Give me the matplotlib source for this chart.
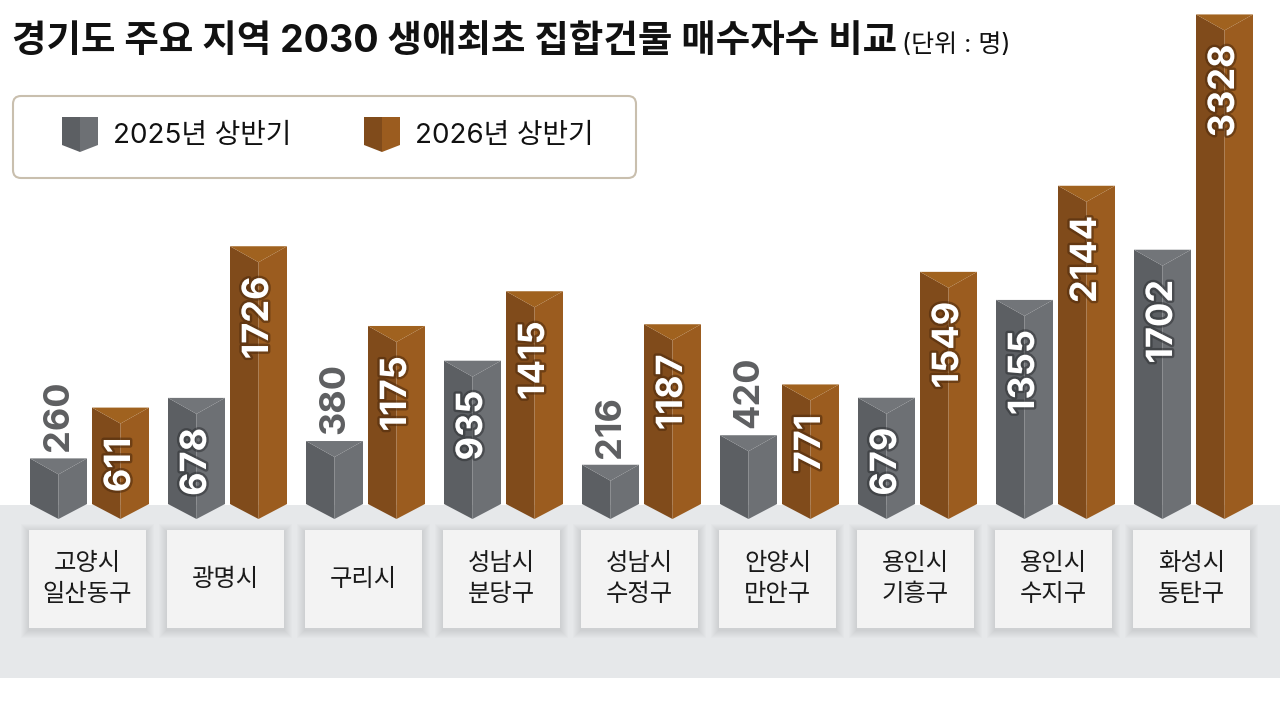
import matplotlib
matplotlib.use('Agg')
import matplotlib.pyplot as plt
import matplotlib.patheffects as pe
from matplotlib.patches import Polygon, Rectangle, FancyBboxPatch

# Inter for latin/digits, Noto CJK for hangul
plt.rcParams['font.family'] = ['Inter', 'Noto Sans CJK KR', 'DejaVu Sans']

# data (명)
regions = ['고양시\n일산동구', '광명시', '구리시', '성남시\n분당구', '성남시\n수정구',
           '안양시\n만안구', '용인시\n기흥구', '용인시\n수지구', '화성시\n동탄구']
h1_2025 = [260, 678, 380, 935, 216, 420, 679, 1355, 1702]
h1_2026 = [611, 1726, 1175, 1415, 1187, 771, 1549, 2144, 3328]
series_names = ['2025년 상반기', '2026년 상반기']

# layout (pixels of the 1280x711 canvas)
W, H = 1280, 711
BASE_PX = 496        # row of value 0
SCALE = 0.1447       # px per 명
GROUP_PX = 138       # px between groups
GROUP0_PX = 89.5     # centre of first group
BAR_W_PX = 57
BAR_OFF_PX = 31
LID_PX = 16
SIDE_BOTTOM_PX = 504
TIP_PX = 519

# left face, right face, lid, text shadow
GRAY = ('#5c5f63', '#6d7074', '#727579', '#2e3033')
BROWN = ('#804b1b', '#9b5c1f', '#a0621f', '#4a280b')


def py(p):
    # value at pixel row p
    return (BASE_PX - p) / SCALE


def px(d):
    # group units for a pixel distance
    return d / GROUP_PX


def prism(ax, xc, top, half_w, cols, side_bot, tip, lid):
    x0, x1 = xc - half_w, xc + half_w
    ax.add_patch(Polygon([(x0, top), (xc, top - lid), (xc, tip), (x0, side_bot)],
                         closed=True, fc=cols[0], ec='none', zorder=3))
    ax.add_patch(Polygon([(x1, top), (xc, top - lid), (xc, tip), (x1, side_bot)],
                         closed=True, fc=cols[1], ec='none', zorder=3))
    ax.add_patch(Polygon([(x0, top), (x1, top), (xc, top - lid)],
                         closed=True, fc=cols[2], ec='none', zorder=3))


fig = plt.figure(figsize=(W / 100, H / 100), dpi=100)

# background layer in pixel coordinates
bg = fig.add_axes([0, 0, 1, 1])
bg.set_xlim(0, W)
bg.set_ylim(H, 0)
bg.axis('off')
bg.add_patch(Rectangle((0, 505), W, 173, fc='#e6e8ea', ec='none'))

bg.text(12, 42, '경기도 주요 지역 2030 생애최초 집합건물 매수자수 비교', fontsize=27,
        fontweight='bold', va='center', ha='left', color='#111111')
bg.text(902, 45, '(단위 : 명)', fontsize=18, va='center', ha='left', color='#111111')

# legend
bg.add_patch(FancyBboxPatch((13, 96), 623, 82, boxstyle='round,pad=0,rounding_size=8',
                            fc='white', ec='#c9bfae', lw=1.5))
for lx, cols, name in [(62, GRAY, series_names[0]), (364, BROWN, series_names[1])]:
    prism(bg, lx + 18, 117, 18, (cols[0], cols[1], cols[1]), 145, 152, 0)
    bg.text(lx + 51, 136, name, fontsize=20, va='center', ha='left', color='#111111')

# bars layer in data coordinates
ax = fig.add_axes([0, 0, 1, 1], zorder=2)
ax.patch.set_alpha(0)
ax.set_xlim(-GROUP0_PX / GROUP_PX, (W - GROUP0_PX) / GROUP_PX)
ax.set_ylim(py(H), py(0))
ax.axis('off')

half_w = px(BAR_W_PX / 2)
lid = LID_PX / SCALE
for i, region in enumerate(regions):
    # category box with a soft shadow
    bx = i - px(2) - px(58.5)
    for k in range(8, 0, -1):
        ax.add_patch(Rectangle((bx - px(k), py(628 + k + 2)), px(117 + 2 * k), (98 + 2 * k) / SCALE,
                               fc='black', alpha=0.01, ec='none', zorder=1))
    ax.add_patch(Rectangle((bx, py(628)), px(117), 98 / SCALE, fc='#f3f3f3', ec='none', zorder=2))
    ax.text(i - px(2), py(579), region, ha='center', va='center', fontsize=17.5,
            linespacing=1.4, color='#1a1a1a', zorder=4)

    for off, v, cols in [(-BAR_OFF_PX, h1_2025[i], GRAY), (BAR_OFF_PX, h1_2026[i], BROWN)]:
        xc = i + px(off)
        prism(ax, xc, v, half_w, cols, py(SIDE_BOTTOM_PX), py(TIP_PX), lid)
        if v >= 500:
            ax.text(xc, v - 30 / SCALE, str(v), rotation=90, ha='center', va='top',
                    fontsize=26, fontweight='bold', color='white', zorder=5,
                    path_effects=[pe.withStroke(linewidth=3.5, foreground=cols[3], alpha=0.55)])
        else:
            ax.text(xc, v + 7 / SCALE, str(v), rotation=90, ha='center', va='bottom',
                    fontsize=26, fontweight='bold', color='#5e5f61', zorder=5)

fig.savefig('out.png', dpi=100)
